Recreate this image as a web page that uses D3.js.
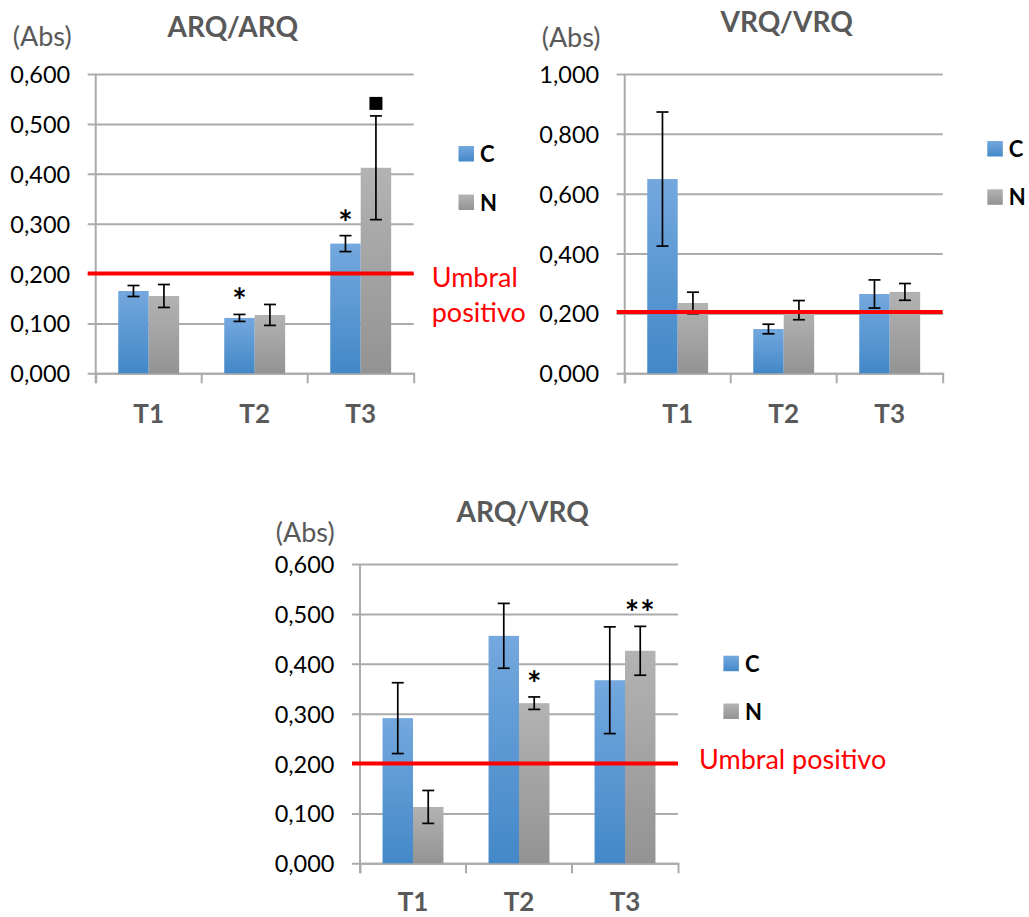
<!DOCTYPE html>
<html><head><meta charset="utf-8">
<script src="https://cdn.jsdelivr.net/npm/d3@7"></script>
<style>
html,body{margin:0;padding:0;background:#fff;}
svg{display:block;font-family:Lato,"Noto Sans",sans-serif;}
</style></head><body>
<svg id="chart" width="1029" height="917"></svg>
<script>
// ---- data ----
const categories = ["T1", "T2", "T3"];
const seriesNames = ["C", "N"];

const arqArqC    = [0.165, 0.111, 0.260];
const arqArqCErr = [0.011, 0.007, 0.016];
const arqArqN    = [0.155, 0.117, 0.412];
const arqArqNErr = [0.023, 0.021, 0.104];

const vrqVrqC    = [0.649, 0.148, 0.265];
const vrqVrqCErr = [0.224, 0.016, 0.047];
const vrqVrqN    = [0.235, 0.211, 0.272];
const vrqVrqNErr = [0.036, 0.032, 0.028];

const arqVrqC    = [0.291, 0.456, 0.367];
const arqVrqCErr = [0.071, 0.065, 0.107];
const arqVrqN    = [0.113, 0.321, 0.426];
const arqVrqNErr = [0.033, 0.0125, 0.049];

const titles = ["ARQ/ARQ", "VRQ/VRQ", "ARQ/VRQ"];
const thresholds = [0.200, 0.205, 0.200];
const yMaxima = [0.6, 1.0, 0.6];
const yTickSteps = [0.1, 0.2, 0.1];
const unitLabel = "(Abs)";
const thresholdWords = ["Umbral", "positivo"];

// significance marks: [category, series, symbol]
const arqArqMarks = [["T2", "C", "*"], ["T3", "C", "*"], ["T3", "N", "square"]];
const vrqVrqMarks = [];
const arqVrqMarks = [["T2", "N", "*"], ["T3", "N", "**"]];

// ---- panel layout ----
const panels = [
  { c: arqArqC, cErr: arqArqCErr, n: arqArqN, nErr: arqArqNErr, marks: arqArqMarks,
    x: 95.7, y: 74, w: 318, h: 299.3,
    titleX: 232.8, titleY: 36.7, absX: 12.8, absY: 45.5,
    legX: 458.5, legY: [146, 194.5], catY: 423.3,
    thr: { x: 431.7, ys: [286.7, 322], split: true } },
  { c: vrqVrqC, cErr: vrqVrqCErr, n: vrqVrqN, nErr: vrqVrqNErr, marks: vrqVrqMarks,
    x: 624.7, y: 74, w: 318, h: 299.3,
    titleX: 786.7, titleY: 32.3, absX: 541.7, absY: 47,
    legX: 987.3, legY: [141, 189.3], catY: 423.3,
    thr: null },
  { c: arqVrqC, cErr: arqVrqCErr, n: arqVrqN, nErr: arqVrqNErr, marks: arqVrqMarks,
    x: 360, y: 564, w: 318, h: 299.3,
    titleX: 522.7, titleY: 521.7, absX: 275.8, absY: 542,
    legX: 723.4, legY: [655.7, 703.5], catY: 911,
    thr: { x: 699, ys: [769.3], split: false } }
];

const svg = d3.select("#chart");
const fmt = d3.formatLocale({ decimal: ",", thousands: ".", grouping: [3], currency: ["", ""] }).format(".3f");
const gridColor = "#ababab";
const textGray = "#595959";

// bar gradients
const defs = svg.append("defs");
function gradient(id, top, bottom) {
  const g = defs.append("linearGradient").attr("id", id)
    .attr("x1", 0).attr("y1", 0).attr("x2", 0).attr("y2", 1);
  g.append("stop").attr("offset", "0%").attr("stop-color", top);
  g.append("stop").attr("offset", "100%").attr("stop-color", bottom);
}
gradient("gradC", "#74a8de", "#4388c8");
gradient("gradN", "#b3b3b3", "#939393");
const fills = { C: "url(#gradC)", N: "url(#gradN)" };

panels.forEach((p, i) => {
  const g = svg.append("g");
  const x = d3.scaleBand().domain(categories).range([p.x, p.x + p.w]);
  const xs = d3.scaleBand().domain(seriesNames).range([0, x.bandwidth()]).paddingOuter(0.74);
  const y = d3.scaleLinear().domain([0, yMaxima[i]]).range([p.y + p.h, p.y]);
  const tickVals = d3.range(0, yMaxima[i] + 1e-9, yTickSteps[i]);

  // horizontal gridlines + value labels
  const yAxis = g.append("g")
    .attr("transform", `translate(${p.x + p.w},0)`)
    .call(d3.axisLeft(y).tickValues(tickVals).tickFormat(fmt)
      .tickSize(p.w + 8).tickPadding(17.5));
  yAxis.select(".domain").remove();
  yAxis.selectAll(".tick line").attr("stroke", gridColor).attr("stroke-width", 2);
  yAxis.selectAll(".tick text")
    .attr("fill", "#000").attr("font-size", 23.5).attr("font-family", "Lato")
    .attr("dy", "0.36em");

  // vertical axis line
  g.append("line")
    .attr("x1", p.x).attr("x2", p.x)
    .attr("y1", y(yMaxima[i])).attr("y2", y(0) + 10)
    .attr("stroke", gridColor).attr("stroke-width", 2);

  // category axis
  const xAxis = g.append("g")
    .attr("transform", `translate(0,${y(0)})`)
    .call(d3.axisBottom(x).tickSizeInner(0).tickSizeOuter(10).tickPadding(0));
  xAxis.select(".domain").attr("stroke", gridColor).attr("stroke-width", 2);
  xAxis.selectAll(".tick line").remove();
  xAxis.selectAll(".tick text")
    .attr("fill", textGray).attr("font-size", 26).attr("font-weight", "bold")
    .attr("font-family", "Lato")
    .attr("y", p.catY - y(0)).attr("dy", 0);
  g.selectAll(".bnd").data(categories.slice(1)).join("line")
    .attr("x1", d => x(d)).attr("x2", d => x(d))
    .attr("y1", y(0)).attr("y2", y(0) + 10)
    .attr("stroke", gridColor).attr("stroke-width", 2);

  // bars
  const rows = [];
  categories.forEach((cat, k) => {
    rows.push({ cat, s: "C", v: p.c[k], e: p.cErr[k] });
    rows.push({ cat, s: "N", v: p.n[k], e: p.nErr[k] });
  });
  g.selectAll(".bar").data(rows).join("rect")
    .attr("x", d => x(d.cat) + xs(d.s))
    .attr("width", xs.bandwidth())
    .attr("y", d => y(d.v))
    .attr("height", d => y(0) - y(d.v))
    .attr("fill", d => fills[d.s]);

  // error bars
  const cx = d => x(d.cat) + xs(d.s) + xs.bandwidth() / 2;
  const eg = g.append("g").attr("stroke", "#000").attr("stroke-width", 1.7).attr("fill", "none");
  eg.selectAll(".ev").data(rows).join("line")
    .attr("x1", cx).attr("x2", cx)
    .attr("y1", d => y(d.v + d.e)).attr("y2", d => y(d.v - d.e));
  eg.selectAll(".et").data(rows).join("line")
    .attr("x1", d => cx(d) - 6).attr("x2", d => cx(d) + 6)
    .attr("y1", d => y(d.v + d.e)).attr("y2", d => y(d.v + d.e));
  eg.selectAll(".eb").data(rows).join("line")
    .attr("x1", d => cx(d) - 6).attr("x2", d => cx(d) + 6)
    .attr("y1", d => y(d.v - d.e)).attr("y2", d => y(d.v - d.e));

  // positive threshold
  g.append("line")
    .attr("x1", p.x - 8).attr("x2", p.x + p.w)
    .attr("y1", y(thresholds[i])).attr("y2", y(thresholds[i]))
    .attr("stroke", "#ff0000").attr("stroke-width", 4);

  // significance marks above the error bars
  p.marks.forEach(([cat, s, sym]) => {
    const d = rows.find(r => r.cat === cat && r.s === s);
    const top = y(d.v + d.e);
    if (sym === "square") {
      g.append("path")
        .attr("d", d3.symbol(d3.symbolSquare, 13 * 13)())
        .attr("transform", `translate(${cx(d)},${top - 12.5})`)
        .attr("fill", "#000");
    } else {
      const t = g.append("text").text(sym)
        .attr("x", cx(d)).attr("y", 0)
        .attr("text-anchor", "middle")
        .attr("font-size", 34).attr("font-weight", "bold").attr("fill", "#000")
        .attr("letter-spacing", sym.length > 1 ? 1 : 0);
      const bb = t.node().getBBox();
      // centre the glyph about 22px above the cap
      t.attr("y", (top - 22) - (bb.y + bb.height * 0.32));
    }
  });

  // title and unit
  g.append("text").text(titles[i])
    .attr("x", p.titleX).attr("y", p.titleY)
    .attr("text-anchor", "middle")
    .attr("font-size", 28).attr("font-weight", "bold").attr("fill", textGray);
  g.append("text").text(unitLabel)
    .attr("x", p.absX).attr("y", p.absY)
    .attr("font-size", 27).attr("fill", textGray);

  // legend
  seriesNames.forEach((s, k) => {
    g.append("rect")
      .attr("x", p.legX).attr("y", p.legY[k])
      .attr("width", 15.5).attr("height", 15.5)
      .attr("fill", fills[s]);
    g.append("text").text(s)
      .attr("x", p.legX + 21.5).attr("y", p.legY[k] + 16)
      .attr("font-size", 22).attr("font-weight", "bold").attr("fill", "#000");
  });

  // threshold label
  if (p.thr) {
    const lines = p.thr.split ? thresholdWords : [thresholdWords.join(" ")];
    lines.forEach((ln, k) => {
      g.append("text").text(ln)
        .attr("x", p.thr.x).attr("y", p.thr.ys[k])
        .attr("font-size", 27).attr("fill", "#ff0000");
    });
  }
});
</script>
</body></html>
